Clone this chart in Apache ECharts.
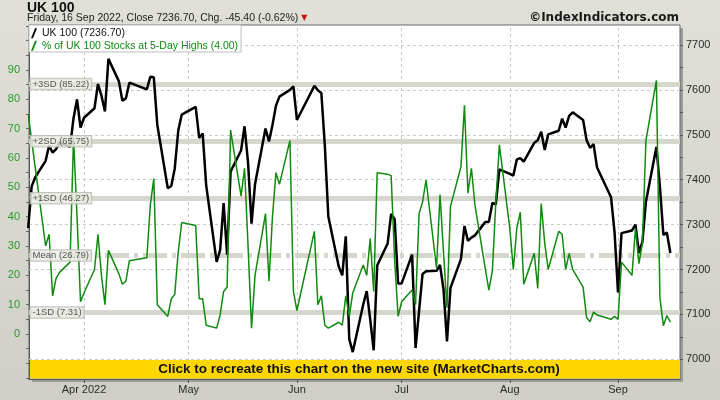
<!DOCTYPE html>
<html><head><meta charset="utf-8">
<script src="https://cdn.jsdelivr.net/npm/echarts@6/dist/echarts.min.js"></script>
<style>
html,body{margin:0;padding:0;background:#d8d8d0;}
#c{width:720px;height:400px;background:linear-gradient(to bottom,#e0e0d9 0%,#d6d6ce 60%,#cfcfc7 100%);}
</style></head><body><div id="c"></div>
<script>
// ---- data ----
const dates = [
'2022-03-16','2022-03-17','2022-03-18','2022-03-21','2022-03-22','2022-03-23','2022-03-24','2022-03-25','2022-03-28','2022-03-29','2022-03-30','2022-03-31',
'2022-04-01','2022-04-04','2022-04-05','2022-04-06','2022-04-07','2022-04-08','2022-04-11','2022-04-12','2022-04-13','2022-04-14','2022-04-19','2022-04-20','2022-04-21','2022-04-22','2022-04-25','2022-04-26','2022-04-27','2022-04-28','2022-04-29',
'2022-05-03','2022-05-04','2022-05-05','2022-05-06','2022-05-09','2022-05-10','2022-05-11','2022-05-12','2022-05-13','2022-05-16','2022-05-17','2022-05-18','2022-05-19','2022-05-20','2022-05-23','2022-05-24','2022-05-25','2022-05-26','2022-05-27','2022-05-30','2022-05-31',
'2022-06-01','2022-06-06','2022-06-07','2022-06-08','2022-06-09','2022-06-10','2022-06-13','2022-06-14','2022-06-15','2022-06-16','2022-06-17','2022-06-20','2022-06-21','2022-06-22','2022-06-23','2022-06-24','2022-06-27','2022-06-28','2022-06-29','2022-06-30',
'2022-07-01','2022-07-04','2022-07-05','2022-07-06','2022-07-07','2022-07-08','2022-07-11','2022-07-12','2022-07-13','2022-07-14','2022-07-15','2022-07-18','2022-07-19','2022-07-20','2022-07-21','2022-07-22','2022-07-25','2022-07-26','2022-07-27','2022-07-28','2022-07-29',
'2022-08-01','2022-08-02','2022-08-03','2022-08-04','2022-08-05','2022-08-08','2022-08-09','2022-08-10','2022-08-11','2022-08-12','2022-08-15','2022-08-16','2022-08-17','2022-08-18','2022-08-19','2022-08-22','2022-08-23','2022-08-24','2022-08-25','2022-08-26','2022-08-30','2022-08-31',
'2022-09-01','2022-09-02','2022-09-05','2022-09-06','2022-09-07','2022-09-08','2022-09-09','2022-09-12','2022-09-13','2022-09-14','2022-09-15','2022-09-16'
];
const ukPrice = [
7292,7385,7405,7442,7476,7460,7468,7483,7473,7537,7579,7516,
7538,7559,7613,7587,7552,7669,7619,7576,7581,7616,7601,7629,7628,7522,7381,7386,7425,7509,7545,
7562,7493,7503,7388,7217,7243,7348,7233,7418,7465,7519,7438,7302,7390,7514,7485,7522,7565,7585,7600,7608,
7533,7609,7599,7593,7476,7318,7206,7187,7274,7045,7016,7122,7152,7089,7020,7209,7258,7324,7312,7169,
7169,7233,7025,7108,7190,7196,7197,7210,7156,7040,7159,7223,7297,7264,7271,7276,7306,7306,7348,7345,7423,
7413,7409,7445,7448,7440,7482,7488,7507,7466,7501,7509,7536,7516,7542,7550,7533,7488,7471,7479,7427,7361,7284,
7149,7281,7287,7300,7237,7262,7351,7473,7385,7277,7282,7236.7
];
const pctHighs = [
75,66,57,30,34,13,19,21,24.5,67,40,11,
14,22,34,20,10,28.5,20.5,17,18,25,26,44,53,10,6,12,13.5,28,38,
37,12,12,3,2,6.5,14.5,16,69.5,47,56.5,30,2,20,41,18,40,55,51,66,14.5,
8,35,10,13,3,2,4,3,13,6,14,23.5,20,32.5,14.5,55,54.5,54,25,6,
11,15,10,41,45,52.5,22.5,47.5,28,9,43.5,57,78,48,56.5,44,22,15,21.5,45,64.5,
36,22,36,41.5,17,27.5,15.5,44.5,31,22,35,34,22,27.5,22,16,5.5,4.2,7.5,6.5,5,6,
5,24.5,20,36,24,31,66,86.5,12.5,2.8,6.3,4
];
const pctLabelTicks = [0,10,20,30,40,50,60,70,80,90];
const pctTickMarks = [-15,-10,-5,0,5,10,15,20,25,30,35,40,45,50,55,60,65,70,75,80,85,90,95,100,105];
const priceLabelTicks = [7000,7100,7200,7300,7400,7500,7600,7700];
const priceTickMarks = [7000,7050,7100,7150,7200,7250,7300,7350,7400,7450,7500,7550,7600,7650,7700];
const monthTicks = ['2022-04-01','2022-05-01','2022-06-01','2022-07-01','2022-08-01','2022-09-01'];
const monthLabels = ['Apr 2022','May','Jun','Jul','Aug','Sep'];
const sdValues = [85.22, 65.75, 46.27, 26.79, 7.31];
const sdLabels = ['+3SD (85.22)','+2SD (65.75)','+1SD (46.27)','Mean (26.79)','-1SD (7.31)'];
const seriesNames = ['UK 100 (7236.70)', '% of UK 100 Stocks at 5-Day Highs (4.00)'];
const xRange = ['2022-03-16 05:45', '2022-09-18 18:15'];
const pctRange = [-15.34, 105.34];
const priceRange = [6956.1, 7744.5];

// ---- helpers ----
function ts(s){const p=s.split(/[- :]/).map(Number);return Date.UTC(p[0],p[1]-1,p[2],p[3]||0,p[4]||0);}
const monthMap = {};
monthTicks.forEach((m,i)=>{monthMap[ts(m)] = monthLabels[i];});
const FONT = 'Liberation Sans';
const GREEN = '#108a10';

const chart = echarts.init(document.getElementById('c'), null, {renderer:'canvas'});
const option = {
  animation:false,
  backgroundColor:'transparent',
  textStyle:{fontFamily:FONT},
  title:[
    {text:'UK 100', left:27, top:1, padding:0, textStyle:{fontFamily:FONT, fontSize:14, fontWeight:'bold', color:'#111'}},
    {text:'Friday, 16 Sep 2022, Close 7236.70, Chg. -45.40 (-0.62%) {t|▼}', left:27, top:12.5, padding:0,
     textStyle:{fontFamily:FONT, fontSize:10.5, fontWeight:'normal', color:'#222',
       rich:{t:{fontFamily:'DejaVu Sans', fontSize:8, color:'#cc1111'}}}},
    {text:'©IndexIndicators.com', right:41, top:12, padding:0, textStyle:{fontFamily:'DejaVu Sans', fontSize:12, fontWeight:'bold', color:'#1a1a1a'}}
  ],
  legend:{
    left:29, top:25, orient:'vertical', backgroundColor:'#fff', borderColor:'#bdbdbd', borderWidth:1,
    padding:[2,3,0,2], itemGap:0, itemWidth:6, itemHeight:10, selectedMode:false,
    icon:'path://M0,10 L4,0 L6,0 L2,10 Z',
    textStyle:{fontFamily:FONT, fontSize:10.5, lineHeight:12.5},
    data:[{name:seriesNames[0], textStyle:{color:'#111'}},{name:seriesNames[1], textStyle:{color:GREEN}}]
  },
  grid:{left:29, top:25, right:40, bottom:21, show:true, backgroundColor:'#fff', borderColor:'#666', borderWidth:1, outerBoundsMode:'none', containLabel:false},
  xAxis:{
    type:'value', min:ts(xRange[0]), max:ts(xRange[1]),
    axisLine:{show:true, onZero:false, lineStyle:{color:'#555'}},
    axisTick:{show:true, customValues:monthTicks.map(ts), length:4, lineStyle:{color:'#555'}},
    axisLabel:{customValues:monthTicks.map(ts), formatter:(v)=>monthMap[v]||'', color:'#2a2a2a', fontSize:11, margin:5, fontFamily:FONT, hideOverlap:false},
    splitLine:{show:false}
  },
  yAxis:[
    {type:'value', min:pctRange[0], max:pctRange[1], position:'left',
     axisLine:{show:true, onZero:false, lineStyle:{color:'#555'}},
     axisTick:{show:true, customValues:pctTickMarks, length:3, lineStyle:{color:'#666'}},
     axisLabel:{customValues:pctLabelTicks, color:'#2a9a2a', fontSize:11, margin:9, fontFamily:FONT, formatter:(v)=>String(v)},
     splitLine:{show:false}},
    {type:'value', min:priceRange[0], max:priceRange[1], position:'right',
     axisLine:{show:false, onZero:false},
     axisTick:{show:true, customValues:priceTickMarks, length:3, lineStyle:{color:'#555'}},
     axisLabel:{customValues:priceLabelTicks, color:'#2a2a2a', fontSize:11, margin:6, fontFamily:FONT, formatter:(v)=>String(v)},
     splitLine:{show:false}}
  ],
  series:[
    {name:seriesNames[0], type:'line', yAxisIndex:1, z:3, showSymbol:false, symbol:'none', silent:true,
     data:dates.map((d,i)=>[ts(d), ukPrice[i]]),
     lineStyle:{color:'#000', width:2.5}, itemStyle:{color:'#000'},
     markLine:{silent:true, symbol:'none', z:1, label:{show:false}, animation:false,
       lineStyle:{color:'#c9c9c9', type:[3,3], width:1},
       data:[].concat(priceLabelTicks.map(v=>({yAxis:v})), monthTicks.map(m=>({xAxis:ts(m)})))}
    },
    {name:seriesNames[1], type:'line', yAxisIndex:0, z:3, showSymbol:false, symbol:'none', silent:true,
     data:dates.map((d,i)=>[ts(d), pctHighs[i]]),
     lineStyle:{color:GREEN, width:1.5}, itemStyle:{color:GREEN},
     markLine:{silent:true, symbol:'none', z:1.5, label:{show:false}, animation:false,
       data:sdValues.map((v,i)=>({yAxis:v, lineStyle:{color:'#d6d6cc', width:5, type:(i===3?[24,5,4,5]:'solid')}}))}
    },
    {name:'sdlabels', type:'scatter', yAxisIndex:0, z:6, silent:true, symbolSize:1,
     itemStyle:{color:'rgba(0,0,0,0)'},
     data:sdValues.map(v=>[ts(xRange[0]), v]),
     label:{show:true, position:'right', distance:1, formatter:(p)=>sdLabels[p.dataIndex],
       fontFamily:FONT, fontSize:9.5, color:'#333', backgroundColor:'#ebebe3', borderColor:'#b5b5ad', borderWidth:1,
       padding:[1,2,0,2], lineHeight:9.5}
    }
  ],
  graphic:[
    {type:'rect', z:-1, shape:{x:32, y:28, width:651, height:354}, style:{fill:'#9c9c98'}},
    {type:'rect', z:20, shape:{x:30, y:360, width:650, height:18.5}, style:{fill:'#FFD700'}},
    {type:'text', z:21, x:359, y:369.5, style:{text:'Click to recreate this chart on the new site (MarketCharts.com)', fill:'#111', font:'bold 13.5px "Liberation Sans"', align:'center', verticalAlign:'middle'}}
  ]
};
chart.setOption(option);
</script></body></html>
